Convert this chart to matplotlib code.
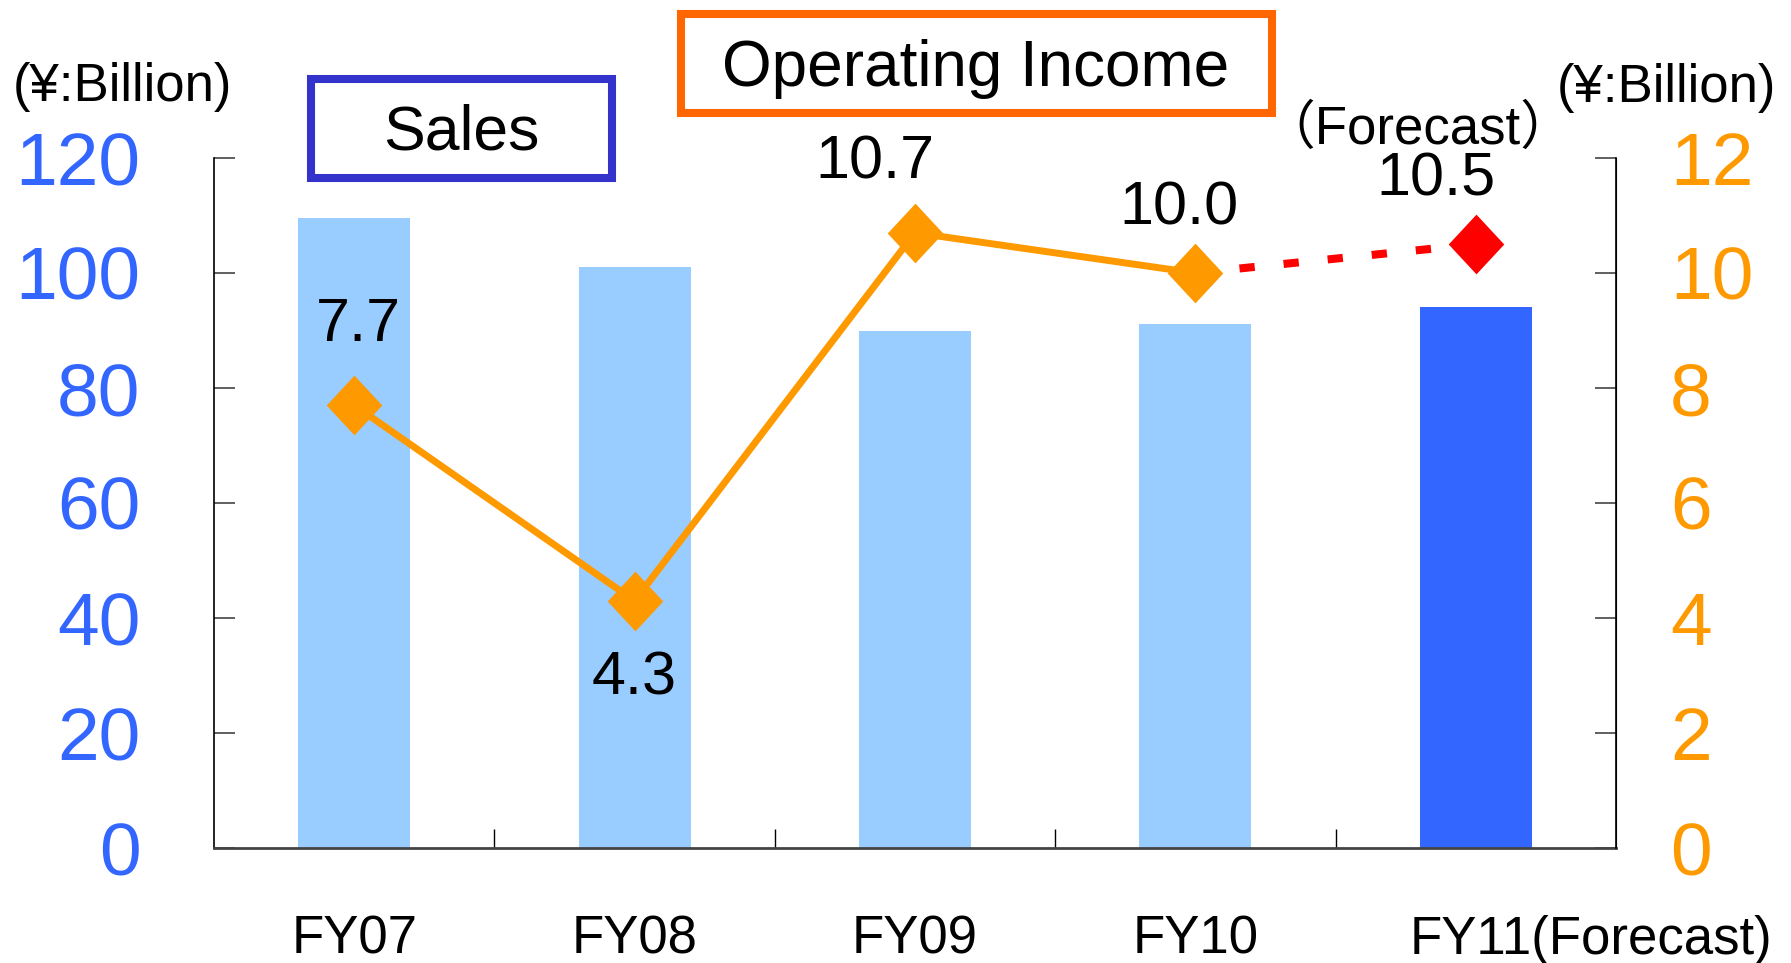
import matplotlib.pyplot as plt
from matplotlib.patches import Rectangle
from matplotlib.transforms import ScaledTranslation

plt.rcParams['font.family'] = ['Liberation Sans', 'Noto Sans CJK JP']

# data
years = ["FY07", "FY08", "FY09", "FY10", "FY11(Forecast)"]
sales = [109.6, 101.0, 89.9, 91.2, 94.0]
op_income = [7.7, 4.3, 10.7, 10.0, 10.5]
op_labels = ["7.7", "4.3", "10.7", "10.0", "10.5"]
sales_ticks = [0, 20, 40, 60, 80, 100, 120]
oi_ticks = [0, 2, 4, 6, 8, 10, 12]

W, H = 1791, 963


def fx(px):
    return px / W


def fy(py):
    return 1 - py / H


fig = plt.figure(figsize=(W / 100, H / 100), dpi=100)
ax = fig.add_axes([fx(214), fy(848), fx(1616) - fx(214), fy(158) - fy(848)])
ax2 = ax.twinx()

x = list(range(len(years)))
bar_colors = ['#99CCFF'] * 4 + ['#3366FF']
ax.bar(x, sales, width=0.4, color=bar_colors, zorder=2)

ax.set_xlim(-0.5, 4.5)
ax.set_ylim(0, 120)
ax2.set_ylim(0, 12)

# axes styling
for a in (ax, ax2):
    a.spines['top'].set_visible(False)
ax.spines['left'].set_linewidth(1.2)
ax.spines['bottom'].set_linewidth(2)
ax.spines['bottom'].set_color('#444444')
ax2.spines['right'].set_linewidth(1.2)
ax2.spines['left'].set_visible(False)
ax2.spines['bottom'].set_visible(False)

ax.set_yticks(sales_ticks)
ax.set_yticklabels([str(t) for t in sales_ticks])
ax.tick_params(axis='y', direction='in', length=15, width=1.2, color='#444444',
               labelsize=54, labelcolor='#3366FF', pad=53)
ax2.set_yticks(oi_ticks)
ax2.set_yticklabels([str(t) for t in oi_ticks])
ax2.tick_params(axis='y', direction='in', length=15, width=1.2, color='#444444',
                labelsize=54, labelcolor='#FF9900', pad=39)

ax.set_xticks(x)
ax.set_xticklabels(years)
ax.set_xticks([0.5, 1.5, 2.5, 3.5], minor=True)
ax.tick_params(axis='x', which='major', length=0, labelsize=38, pad=48)
ax.tick_params(axis='x', which='minor', direction='in', length=14, width=1, color='black')

# FY11 label starts under the bar and runs to the right
last = ax.get_xticklabels()[-1]
last.set_ha('left')
last.set_transform(last.get_transform() + ScaledTranslation(-0.66, 0, fig.dpi_scale_trans))

# operating income line
diamond = [(0, 1), (0.93, 0), (0, -1), (-0.93, 0), (0, 1)]
ax2.plot(x[3:], op_income[3:], color='#FF0000', lw=5.8, linestyle=(0, (1.9, 3.6)),
         dash_capstyle='butt', zorder=2)
ax2.plot(x[:4], op_income[:4], color='#FF9900', lw=5, marker=diamond, ms=43,
         markeredgewidth=0, zorder=3)
ax2.plot(x[4:], op_income[4:], color='#FF0000', lw=0, marker=diamond, ms=43,
         markeredgewidth=0, zorder=3)

offsets = [(4, 80), (0, -78), (-40, 70), (-16, 64), (-40, 64)]
for i, (lbl, off) in enumerate(zip(op_labels, offsets)):
    ax2.annotate(lbl, (x[i], op_income[i]), xytext=off, textcoords='offset pixels',
                 ha='center', va='center', fontsize=44, color='black')
ax2.annotate('（Forecast）', (x[4], op_income[4]), xytext=(-58, 114),
             textcoords='offset pixels', ha='center', va='center', fontsize=38)

# unit labels
fig.text(fx(13), fy(87), '(¥:Billion)', fontsize=38, ha='left', va='center')
fig.text(fx(1557), fy(88), '(¥:Billion)', fontsize=38, ha='left', va='center')

# legend boxes
fig.patches.append(Rectangle((fx(311), fy(178)), fx(612) - fx(311), fy(79) - fy(178),
                             transform=fig.transFigure, fill=False, ec='#3333CC', lw=5.8))
fig.text(fx(461), fy(133), 'Sales', fontsize=45, ha='center', va='center')
fig.patches.append(Rectangle((fx(681), fy(113)), fx(1272) - fx(681), fy(14) - fy(113),
                             transform=fig.transFigure, fill=False, ec='#FF6600', lw=5.8))
fig.text(fx(976), fy(69), 'Operating Income', fontsize=46, ha='center', va='center')

fig.savefig('out.png', dpi=100)
